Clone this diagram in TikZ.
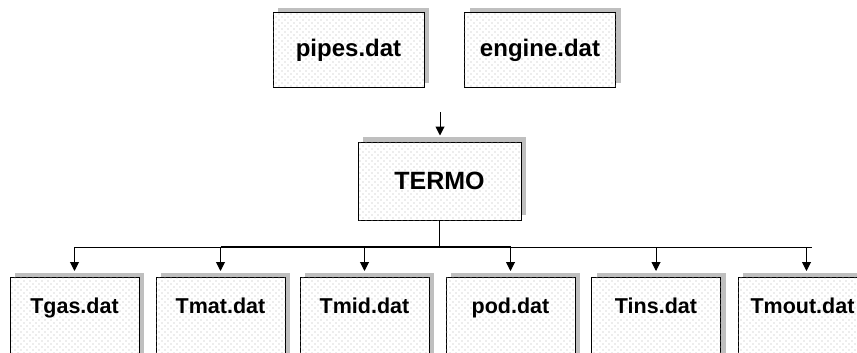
\documentclass[tikz,border=0pt]{standalone}
\usepackage{fontspec}
\setmainfont{Liberation Sans}
\usetikzlibrary{arrows.meta,shadows,patterns.meta}
\tikzdeclarepattern{
  name=speckle,
  type=uncolored,
  bounding box={(-1pt,-1pt) and (4pt,4pt)},
  tile size={(6pt,6pt)},
  code={
    \pgfpathcircle{\pgfpointorigin}{0.6pt}
    \pgfpathcircle{\pgfqpoint{3pt}{3pt}}{0.6pt}
    \pgfusepath{fill}
  }
}
\tikzstyle{datbox} = [draw, line width=1pt, fill=white, inner sep=0pt,
  drop shadow={shadow xshift=5pt, shadow yshift=5pt, fill=black!25, opacity=1},
  postaction={pattern=speckle, pattern color=black!30}, font=\bfseries]
\tikzstyle{infile} = [datbox, minimum width=151pt, minimum height=75pt, font=\bfseries\fontsize{24}{28}\selectfont]
\tikzstyle{program} = [datbox, minimum width=163pt, minimum height=78pt, font=\bfseries\fontsize{25}{30}\selectfont]
\tikzstyle{outfile} = [datbox, minimum width=129pt, text height=36pt, text depth=80pt, anchor=north, font=\bfseries\fontsize{21.5}{26}\selectfont]
\tikzstyle{flow} = [line width=1pt, -{Triangle[length=9pt,width=9pt]}]

\begin{document}
\begin{tikzpicture}[x=1pt, y=-1pt]
\useasboundingbox (0,0) rectangle (857,353);
\clip (0,0) rectangle (857,353);

% input files
\node (pipes) [infile] at (348.5,50.5) {pipes.dat};
\node (engine) [infile] at (540,50.5) {engine.dat};

% program
\coordinate (feed) at (440,112);
\node (termo) [program] at (439.5,181) {TERMO};
\draw[flow] (feed) -- ([yshift=6pt]termo.north -| feed);

% output files
\node (tgas) [outfile] at (74.5,277) {Tgas.dat};
\node (tmat) [outfile] at (220.5,277) {Tmat.dat};
\node (tmid) [outfile] at (364.5,277) {Tmid.dat};
\node (pod) [outfile] at (510.5,277) {pod.dat};
\node (tins) [outfile] at (656,277) {Tins.dat};
\node (tmout) [outfile] at (802.5,277) {Tmout.dat};

\coordinate (bus) at (439.5,247);
\coordinate (busend) at (812,247);
\draw[line width=1pt] (termo.south) -- (bus);
\draw[line width=1pt] (tgas.north |- bus) -- (busend);
\draw[line width=1.6pt] (tmat.north |- bus) -- (pod.north |- bus);

\draw[flow] (tgas.north |- bus) -- ([yshift=6pt]tgas.north);
\draw[flow] (tmat.north |- bus) -- ([yshift=6pt]tmat.north);
\draw[flow] (tmid.north |- bus) -- ([yshift=6pt]tmid.north);
\draw[flow] (pod.north |- bus) -- ([yshift=6pt]pod.north);
\draw[flow] (tins.north |- bus) -- ([yshift=6pt]tins.north);
\draw[flow] ([xshift=4pt]tmout.north |- bus) -- ([xshift=4pt,yshift=6pt]tmout.north);

\end{tikzpicture}
\end{document}
